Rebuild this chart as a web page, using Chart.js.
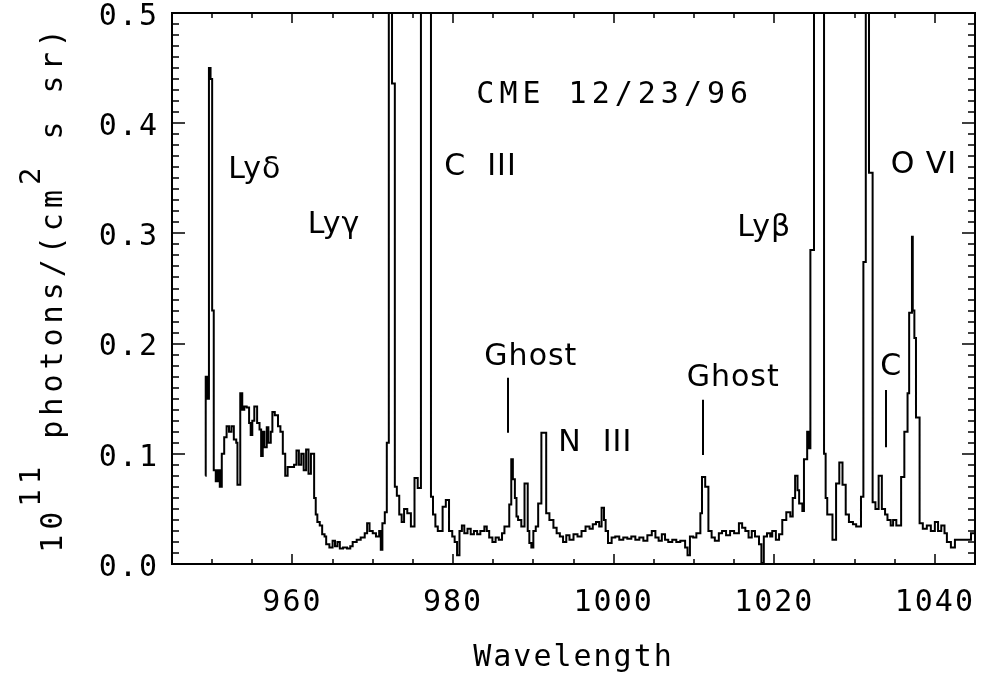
<!DOCTYPE html>
<html>
<head>
<meta charset="utf-8">
<script src="https://cdn.jsdelivr.net/npm/chart.js@4.4.1/dist/chart.umd.min.js"></script>
<style>
  body { margin: 0; background: #fff; }
  #wrap { width: 983px; height: 679px; }
</style>
</head>
<body>
<div id="wrap"><canvas id="myChart"></canvas></div>
<script>
// spectrum (bin left edges, angstrom)
const wavelength = [
  949.15, 949.2, 949.4, 949.6, 949.8, 950.0, 950.2, 950.45, 950.7, 950.95,
  951.2, 951.5, 951.8, 952.1, 952.4, 952.7, 953.0, 953.15, 953.5, 953.75,
  954.0, 954.3, 954.6, 954.8, 955.0, 955.25, 955.6, 955.9, 956.1, 956.3,
  956.5, 956.8, 957.0, 957.3, 957.5, 957.8, 958.2, 958.5, 958.8, 959.1,
  959.4, 959.8, 960.2, 960.5, 960.8, 961.1, 961.4, 961.7, 962.0, 962.3,
  962.7, 962.9, 963.1, 963.4, 963.7, 964.0, 964.2, 964.6, 965.0, 965.3,
  965.6, 965.9, 966.3, 966.8, 967.2, 967.5, 968.0, 968.5, 969.0, 969.3,
  969.6, 970.0, 970.4, 970.8, 971.0, 971.2, 971.5, 971.75, 972.0, 972.4,
  972.75, 973.0, 973.3, 973.6, 973.9, 974.3, 974.75, 975.2, 975.6, 976.0,
  977.25, 977.5, 977.8, 978.1, 978.7, 979.1, 979.5, 979.9, 980.2, 980.5,
  980.8, 981.1, 981.4, 981.8, 982.2, 982.6, 983.0, 983.4, 983.9, 984.2,
  984.5, 984.9, 985.3, 985.7, 986.1, 986.4, 987.0, 987.25, 987.45, 987.7,
  987.9, 988.1, 988.5, 988.9, 989.3, 989.5, 989.75, 990.0, 990.3, 990.6,
  991.0, 991.6, 992.0, 992.5, 992.9, 993.3, 993.7, 994.1, 994.5, 995.0,
  995.5, 996.0, 996.5, 997.0, 997.4, 997.8, 998.2, 998.5, 998.8, 999.0,
  999.3, 999.75, 1000.2, 1000.7, 1001.2, 1001.7, 1002.2, 1002.7, 1003.2, 1003.7,
  1004.2, 1004.75, 1005.2, 1005.6, 1006.0, 1006.4, 1006.8, 1007.3, 1007.8, 1008.3,
  1008.9, 1009.2, 1009.5, 1009.9, 1010.3, 1010.8, 1011.0, 1011.4, 1011.8, 1012.2,
  1012.6, 1013.1, 1013.5, 1014.0, 1014.5, 1015.0, 1015.6, 1016.0, 1016.4, 1016.8,
  1017.2, 1017.6, 1018.1, 1018.4, 1018.7, 1019.1, 1019.5, 1019.75, 1020.2, 1020.6,
  1021.0, 1021.5, 1022.0, 1022.3, 1022.6, 1022.9, 1023.1, 1023.5, 1023.7, 1024.1,
  1024.3, 1024.5, 1024.95, 1026.2, 1026.4, 1026.6, 1027.25, 1027.7, 1028.1, 1028.5,
  1028.9, 1029.3, 1029.8, 1030.2, 1030.8, 1031.1, 1031.4, 1031.8, 1032.25, 1032.6,
  1033.0, 1033.4, 1033.8, 1034.1, 1034.5, 1034.8, 1035.2, 1035.8, 1036.2, 1036.6,
  1036.8, 1037.15, 1037.25, 1037.45, 1037.65, 1038.1, 1038.5, 1039.0, 1039.5, 1040.0,
  1040.4, 1040.8, 1041.2, 1041.5, 1042.0, 1042.5, 1043.5, 1044.5, 1045.0
];
const flux = [
  0.08, 0.17, 0.15, 0.45, 0.44, 0.23, 0.085, 0.075, 0.085, 0.07,
  0.10, 0.115, 0.125, 0.12, 0.125, 0.113, 0.11, 0.072, 0.155, 0.14,
  0.143, 0.142, 0.128, 0.117, 0.13, 0.143, 0.128, 0.122, 0.098, 0.12,
  0.106, 0.124, 0.11, 0.12, 0.138, 0.135, 0.125, 0.12, 0.10, 0.08,
  0.088, 0.088, 0.09, 0.103, 0.09, 0.1, 0.085, 0.104, 0.082, 0.1,
  0.06, 0.045, 0.038, 0.035, 0.027, 0.025, 0.018, 0.015, 0.021, 0.016,
  0.02, 0.014, 0.015, 0.014, 0.016, 0.02, 0.022, 0.024, 0.028, 0.037,
  0.03, 0.028, 0.025, 0.03, 0.013, 0.037, 0.047, 0.11, 1.1, 0.436,
  0.07, 0.062, 0.045, 0.038, 0.05, 0.046, 0.034, 0.078, 0.069, 1.5,
  0.061, 0.045, 0.034, 0.03, 0.052, 0.058, 0.03, 0.025, 0.02, 0.008,
  0.03, 0.035, 0.028, 0.032, 0.027, 0.03, 0.027, 0.03, 0.034, 0.03,
  0.024, 0.02, 0.024, 0.022, 0.028, 0.034, 0.054, 0.095, 0.077, 0.06,
  0.043, 0.04, 0.034, 0.073, 0.03, 0.019, 0.015, 0.03, 0.034, 0.055,
  0.119, 0.046, 0.04, 0.033, 0.028, 0.025, 0.02, 0.026, 0.022, 0.027,
  0.025, 0.03, 0.034, 0.032, 0.036, 0.038, 0.034, 0.051, 0.04, 0.03,
  0.019, 0.024, 0.025, 0.022, 0.024, 0.023, 0.025, 0.022, 0.024, 0.021,
  0.026, 0.03, 0.024, 0.021, 0.027, 0.022, 0.02, 0.022, 0.02, 0.021,
  0.015, 0.008, 0.025, 0.024, 0.028, 0.046, 0.079, 0.07, 0.03, 0.024,
  0.021, 0.028, 0.03, 0.026, 0.03, 0.028, 0.037, 0.033, 0.03, 0.024,
  0.03, 0.025, 0.018, 0.001, 0.025, 0.028, 0.025, 0.03, 0.022, 0.027,
  0.04, 0.047, 0.043, 0.06, 0.08, 0.067, 0.055, 0.048, 0.095, 0.12,
  0.105, 0.285, 1.5, 0.1, 0.06, 0.045, 0.022, 0.073, 0.092, 0.072,
  0.045, 0.038, 0.036, 0.034, 0.061, 0.274, 1.2, 0.355, 0.056, 0.05,
  0.08, 0.05, 0.045, 0.04, 0.035, 0.04, 0.035, 0.079, 0.12, 0.155,
  0.228, 0.297, 0.23, 0.205, 0.133, 0.037, 0.032, 0.035, 0.03, 0.038,
  0.03, 0.035, 0.028, 0.02, 0.015, 0.022, 0.022, 0.028, 0.02
];

const xTicks = [960, 980, 1000, 1020, 1040];
const yTicks = [0.0, 0.1, 0.2, 0.3, 0.4, 0.5];

// line labels: text, wavelength of left edge, flux of the text middle
const lineLabels = ['Ly\u03b4', 'Ly\u03b3', 'C  III', 'CME 12/23/96', 'Ghost', 'N  III', 'Ghost', 'Ly\u03b2', 'O VI', 'C'];
const labelX = [952.0, 961.9, 978.9, 982.9, 983.9, 993.1, 1009.1, 1015.4, 1034.5, 1033.2];
const labelY = [0.357, 0.307, 0.36, 0.425, 0.188, 0.11, 0.169, 0.305, 0.362, 0.179];

// marker strokes under the Ghost / C labels
const markX = [986.9, 1011.1, 1033.9];
const markTop = [0.169, 0.149, 0.158];
const markBottom = [0.119, 0.099, 0.106];

const MONO = '"DejaVu Sans Mono", monospace';
const SANS = '"DejaVu Sans", sans-serif';

const idlFrame = {
  id: 'idlFrame',
  beforeDraw(chart) {
    chart.ctx.letterSpacing = '2px';
  },
  afterDatasetsDraw(chart) {
    const { ctx, chartArea: a, scales: { x, y } } = chart;
    ctx.save();
    ctx.strokeStyle = '#000';
    ctx.lineWidth = 2;
    ctx.strokeRect(a.left, a.top, a.right - a.left, a.bottom - a.top);

    // inward ticks on all four sides
    ctx.lineWidth = 1.5;
    ctx.beginPath();
    for (let v = 945; v <= 1045; v += 5) {
      const px = Math.round(x.getPixelForValue(v));
      const len = v % 20 === 0 ? 10 : 5;
      ctx.moveTo(px, a.bottom); ctx.lineTo(px, a.bottom - len);
      ctx.moveTo(px, a.top); ctx.lineTo(px, a.top + len);
    }
    for (let i = 0; i <= 50; i++) {
      const py = Math.round(y.getPixelForValue(i / 100));
      const len = i % 10 === 0 ? 13 : 7;
      ctx.moveTo(a.left, py); ctx.lineTo(a.left + len, py);
      ctx.moveTo(a.right, py); ctx.lineTo(a.right - len, py);
    }
    ctx.stroke();

    // marker strokes
    ctx.lineWidth = 2;
    ctx.beginPath();
    markX.forEach((m, i) => {
      const px = Math.round(x.getPixelForValue(m));
      ctx.moveTo(px, y.getPixelForValue(markTop[i]));
      ctx.lineTo(px, y.getPixelForValue(markBottom[i]));
    });
    ctx.stroke();

    // line labels
    ctx.fillStyle = '#000';
    ctx.textAlign = 'left';
    ctx.textBaseline = 'middle';
    lineLabels.forEach((t, i) => {
      const isDate = t.startsWith('CME');
      ctx.font = isDate ? '30px ' + MONO : '30px ' + SANS;
      ctx.letterSpacing = isDate ? '5px' : '1px';
      ctx.fillText(t, x.getPixelForValue(labelX[i]), y.getPixelForValue(labelY[i]));
    });

    // y axis title with superscripts
    const parts = [['10', 0], ['11', 1], [' photons/(cm', 0], ['2', 1], [' s sr)', 0]];
    ctx.translate(62, (a.top + a.bottom) / 2);
    ctx.rotate(-Math.PI / 2);
    ctx.textBaseline = 'alphabetic';
    ctx.letterSpacing = '5px';
    const fonts = ['30px ' + MONO, '29px ' + MONO];
    let total = 0;
    parts.forEach(p => { ctx.font = fonts[p[1]]; total += ctx.measureText(p[0]).width; });
    let cx = -total / 2;
    parts.forEach(p => {
      ctx.font = fonts[p[1]];
      ctx.fillText(p[0], cx, p[1] ? -22 : 0);
      cx += ctx.measureText(p[0]).width;
    });
    ctx.restore();
  }
};

const data = {
  datasets: [{
    label: 'CME 12/23/96',
    data: wavelength.map((w, i) => ({ x: w, y: flux[i] })),
    borderColor: '#000',
    borderWidth: 2,
    pointRadius: 0,
    stepped: 'before',
    fill: false
  }]
};

const config = {
  type: 'line',
  data,
  options: {
    responsive: true,
    maintainAspectRatio: false,
    animation: false,
    layout: { padding: { top: 13, right: 8, left: 0, bottom: 0 } },
    plugins: { legend: { display: false }, tooltip: { enabled: false } },
    scales: {
      x: {
        type: 'linear',
        min: 945,
        max: 1045,
        grid: { display: false },
        border: { display: false },
        afterBuildTicks: s => { s.ticks = xTicks.map(v => ({ value: v })); },
        afterFit: s => { s.height = 115; s.paddingLeft = 0; s.paddingRight = 0; },
        ticks: {
          color: '#000',
          font: { family: MONO, size: 30 },
          padding: 13,
          maxRotation: 0,
          autoSkip: false,
          callback: v => String(v)
        },
        title: {
          display: true,
          text: 'Wavelength',
          color: '#000',
          font: { family: MONO, size: 30 },
          padding: { top: 0, bottom: 3 }
        }
      },
      y: {
        min: 0,
        max: 0.5,
        grid: { display: false },
        border: { display: false },
        afterBuildTicks: s => { s.ticks = yTicks.map(v => ({ value: v })); },
        afterFit: s => { s.width = 172; s.paddingTop = 0; s.paddingBottom = 0; },
        ticks: {
          color: '#000',
          font: { family: MONO, size: 30 },
          padding: 5,
          labelOffset: 4,
          callback: v => v.toFixed(1)
        }
      }
    }
  },
  plugins: [idlFrame]
};

const myChart = new Chart(document.getElementById('myChart'), config);
</script>
</body>
</html>
